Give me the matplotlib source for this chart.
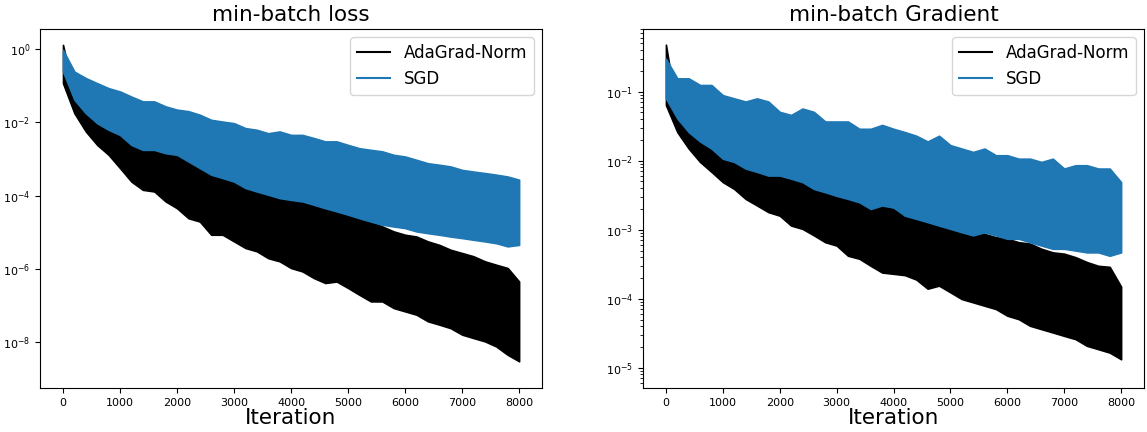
import numpy as np
import matplotlib
matplotlib.use("Agg")
import matplotlib.pyplot as plt
from matplotlib.lines import Line2D

# iteration positions at which the band envelopes were read
iterations = np.arange(0, 8001, 200)

# ---------- min-batch loss ----------
loss_sgd_hi = [0.94, 0.24, 0.16, 0.116, 0.085, 0.069, 0.050, 0.037, 0.037, 0.027,
               0.022, 0.020, 0.016, 0.0116, 0.0104, 0.0094, 0.0069, 0.0062, 0.0050, 0.0056,
               0.0045, 0.0045, 0.0037, 0.0030, 0.0030, 0.0024, 0.00195, 0.00176, 0.0016, 0.00129,
               0.00116, 0.00094, 0.00076, 0.00069, 0.00062, 0.0005, 0.00045, 0.00041, 0.00037, 0.00033,
               0.00027]
loss_sgd_lo = [0.24, 0.041, 0.0176, 0.0094, 0.0062, 0.0045, 0.0024, 0.00176, 0.00176, 0.00143,
               0.00129, 0.00085, 0.00056, 0.00037, 0.0003, 0.00024, 0.00016, 0.000129, 0.000105, 0.000085,
               0.000076, 0.000069, 0.000056, 0.000045, 0.000037, 0.00003, 0.000024, 0.0000195, 0.000016, 0.0000143,
               0.0000129, 0.0000105, 0.0000094, 0.0000085, 0.0000076, 0.0000069, 0.0000062, 0.0000056, 0.000005, 0.0000041,
               0.0000045]
loss_ada_hi = [1.29, 0.056, 0.027, 0.0143, 0.0094, 0.0069, 0.0037, 0.0027, 0.0027, 0.0022,
               0.00195, 0.00129, 0.00085, 0.00056, 0.00045, 0.00037, 0.00024, 0.000195, 0.00016, 0.000129,
               0.000105, 8.5e-5, 6.9e-5, 6.2e-5, 5.6e-5, 3.7e-5, 2.7e-5, 1.95e-5, 1.43e-5, 1.05e-5,
               8.5e-6, 7.6e-6, 5.6e-6, 4.5e-6, 3.3e-6, 2.7e-6, 2.2e-6, 1.6e-6, 1.29e-6, 1.05e-6,
               4.5e-7]
loss_ada_lo = [0.116, 0.0176, 0.0056, 0.0024, 0.00129, 0.00056, 0.00024, 0.000143, 0.000129, 0.000069,
               0.000045, 0.000024, 0.0000195, 0.0000085, 0.0000085, 0.0000056, 0.0000037, 0.000003, 0.00000195, 0.0000016,
               0.00000105, 8.5e-7, 5.6e-7, 4.1e-7, 4.5e-7, 3.0e-7, 1.95e-7, 1.29e-7, 1.29e-7, 8.5e-8,
               6.9e-8, 5.6e-8, 3.7e-8, 3.0e-8, 2.4e-8, 1.6e-8, 1.29e-8, 1.05e-8, 7.6e-9, 4.5e-9,
               3.0e-9]
loss_ylim = (5.6e-10, 3.5)

# ---------- min-batch gradient ----------
grad_sgd_hi = [0.30, 0.156, 0.156, 0.125, 0.125, 0.089, 0.080, 0.072, 0.080, 0.072,
               0.051, 0.046, 0.057, 0.051, 0.037, 0.037, 0.037, 0.029, 0.029, 0.033,
               0.029, 0.026, 0.023, 0.019, 0.023, 0.0168, 0.015, 0.0134, 0.015, 0.012,
               0.012, 0.0107, 0.0107, 0.0096, 0.0107, 0.0077, 0.0086, 0.0086, 0.0077, 0.0077,
               0.0049]
grad_sgd_lo = [0.080, 0.041, 0.026, 0.019, 0.015, 0.0107, 0.0096, 0.0077, 0.0069, 0.0061,
               0.0061, 0.0055, 0.0049, 0.0039, 0.0035, 0.0031, 0.0028, 0.0025, 0.0020, 0.00225,
               0.0021, 0.0016, 0.00144, 0.00129, 0.00115, 0.00103, 0.00092, 0.00083, 0.00092, 0.00083,
               0.00074, 0.00074, 0.00066, 0.00059, 0.00053, 0.00053, 0.0005, 0.00047, 0.00047, 0.00042,
               0.00047]
grad_ada_hi = [0.48, 0.048, 0.031, 0.022, 0.0177, 0.0127, 0.0114, 0.0091, 0.0081, 0.0073,
               0.0073, 0.0065, 0.0058, 0.0047, 0.0042, 0.0037, 0.0033, 0.0030, 0.0025, 0.0025,
               0.0020, 0.0019, 0.0017, 0.0016, 0.00152, 0.00129, 0.00115, 0.00103, 0.00087, 0.00078,
               0.00074, 0.00066, 0.00063, 0.00053, 0.00047, 0.00045, 0.0004, 0.00034, 0.0003, 0.00029,
               0.00015]
grad_ada_lo = [0.064, 0.026, 0.015, 0.0096, 0.0069, 0.0049, 0.0039, 0.0028, 0.00225, 0.0018,
               0.0016, 0.00115, 0.00103, 0.00083, 0.00066, 0.00059, 0.00042, 0.00038, 0.0003, 0.00024,
               0.00023, 0.00022, 0.00019, 0.00014, 0.000155, 0.000124, 0.000099, 0.0000887, 0.0000793, 0.000071,
               0.0000568, 0.0000507, 0.0000406, 0.0000363, 0.0000325, 0.000029, 0.000026, 0.0000208, 0.0000186, 0.0000166,
               0.0000133]
grad_ylim = (5.1e-6, 0.81)

titles = ["min-batch loss", "min-batch Gradient"]
series_names = ["AdaGrad-Norm", "SGD"]
xticks = [0, 1000, 2000, 3000, 4000, 5000, 6000, 7000, 8000]

ADA_COLOR = "black"
SGD_COLOR = "#1f77b4"

fig = plt.figure(figsize=(11.47, 4.32), dpi=100)
ax1 = fig.add_axes([0.0349, 0.1019, 0.4377, 0.8310])
ax2 = fig.add_axes([0.5606, 0.1019, 0.4368, 0.8310])

panels = [
    (ax1, loss_ada_lo, loss_ada_hi, loss_sgd_lo, loss_sgd_hi, loss_ylim),
    (ax2, grad_ada_lo, grad_ada_hi, grad_sgd_lo, grad_sgd_hi, grad_ylim),
]

for (ax, a_lo, a_hi, s_lo, s_hi, ylim), title in zip(panels, titles):
    ax.fill_between(iterations, a_lo, a_hi, color=ADA_COLOR, linewidth=1.2,
                    edgecolor=ADA_COLOR)
    ax.fill_between(iterations, s_lo, s_hi, color=SGD_COLOR, linewidth=1.2,
                    edgecolor=SGD_COLOR)
    ax.set_yscale("log")
    ax.set_xlim(-403, 8403)
    ax.set_ylim(*ylim)
    ax.set_xticks(xticks)
    ax.tick_params(labelsize=8)
    ax.set_title(title, fontsize=15.5)
    ax.set_xlabel("Iteration", fontsize=15.5, labelpad=0)
    handles = [Line2D([], [], color=ADA_COLOR, lw=1.5),
               Line2D([], [], color=SGD_COLOR, lw=1.5)]
    ax.legend(handles, series_names, loc="upper right", fontsize=12)

fig.savefig("out.png", dpi=100)
